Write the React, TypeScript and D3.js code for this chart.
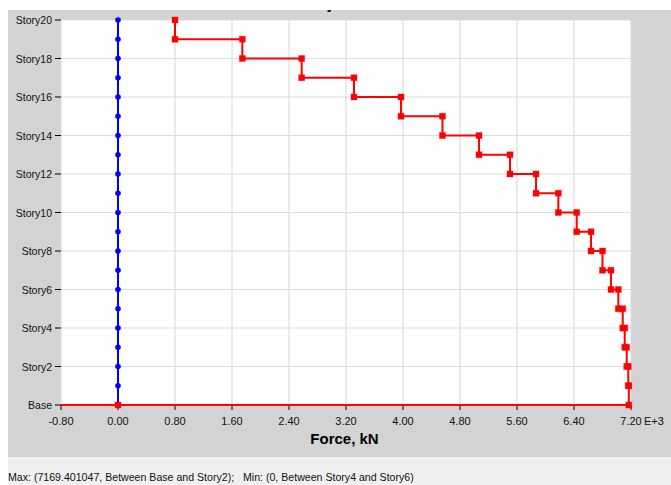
import React from "react";
import * as d3 from "d3";

// Story levels (0 = Base ... 20 = Story20)
const storyNames: string[] = ["Base", ...d3.range(1, 21).map((i) => `Story${i}`)];
const yTickLevels: number[] = [0, 2, 4, 6, 8, 10, 12, 14, 16, 18, 20];
// Shear (kN) in the segment between Story i and Story i-1, i = 1..20
const storyShear: number[] = [
  7169.4, 7162, 7140, 7112, 7084, 7022, 6919, 6800, 6639, 6438,
  6180, 5867, 5502, 5067, 4554, 3972, 3312, 2578, 1745, 800,
];
// Second series: zero at every level
const zeroSeries: number[] = [0, 0, 0, 0, 0, 0, 0, 0, 0, 0, 0, 0, 0, 0, 0, 0, 0, 0, 0, 0, 0];
const xTicks: number[] = [-800, 0, 800, 1600, 2400, 3200, 4000, 4800, 5600, 6400, 7200];
const footer = "Max: (7169.401047, Between Base and Story2);   Min: (0, Between Story4 and Story6)";

const W = 671;
const H = 485;
const plot = { left: 61, right: 631, top: 20, bottom: 405 };

export default function App() {
  const x = d3.scaleLinear().domain([-800, 7200]).range([plot.left, plot.right]);
  const y = d3.scaleLinear().domain([0, 20]).range([plot.bottom, plot.top]);

  const redPts: [number, number][] = [];
  for (let lvl = 20; lvl >= 1; lvl--) {
    const v = storyShear[lvl - 1];
    redPts.push([v, lvl]);
    redPts.push([v, lvl - 1]);
  }
  redPts.push([0, 0]);
  const line = d3
    .line<[number, number]>()
    .x((d) => x(d[0]))
    .y((d) => y(d[1]));
  const bluePts: [number, number][] = zeroSeries.map((v, i) => [v, i]);

  const font = "'Liberation Sans', Arial, sans-serif";
  const fmt = (t: number) => (t / 1000).toFixed(2);

  return (
    <svg
      width={W}
      height={H}
      style={{ position: "absolute", left: 0, top: 0 }}
      fontFamily={font}
    >
      <defs>
        <clipPath id="titleClip">
          <rect x={8} y={10} width={W - 8} height={50} />
        </clipPath>
      </defs>
      <rect x={0} y={0} width={W} height={H} fill="#ffffff" />
      <rect x={8} y={10} width={W - 8} height={447} fill="#d3d3d3" />
      <rect x={8} y={457} width={W - 8} height={H - 457} fill="#f0f0f0" />
      <text
        x={342}
        y={8.5}
        textAnchor="middle"
        fontSize={14}
        fontWeight="bold"
        fill="#000"
        clipPath="url(#titleClip)"
      >
        Story Shears
      </text>

      <rect
        x={plot.left}
        y={plot.top}
        width={plot.right - plot.left}
        height={plot.bottom - plot.top}
        fill="#ffffff"
      />
      {xTicks.map((t) => (
        <line key={`gx${t}`} x1={x(t)} x2={x(t)} y1={plot.top} y2={plot.bottom} stroke="#dcdcdc" strokeWidth={1.2} />
      ))}
      {yTickLevels.map((l) => (
        <line key={`gy${l}`} x1={plot.left} x2={plot.right} y1={y(l)} y2={y(l)} stroke="#dcdcdc" strokeWidth={1.2} />
      ))}

      {yTickLevels.map((l) => (
        <g key={`ty${l}`}>
          <line x1={55} x2={plot.left} y1={y(l)} y2={y(l)} stroke="#000" strokeWidth={1} />
          <text x={52} y={y(l) + 4} textAnchor="end" fontSize={10.5} fill="#111">
            {storyNames[l]}
          </text>
        </g>
      ))}
      {xTicks.map((t, i) => (
        <g key={`tx${t}`}>
          <line x1={x(t)} x2={x(t)} y1={plot.bottom} y2={plot.bottom + 5} stroke="#000" strokeWidth={1} />
          <text x={x(t)} y={425} textAnchor="middle" fontSize={11} fill="#111">
            {fmt(t)}
          </text>
          {i === xTicks.length - 1 && (
            <text x={x(t) + 13} y={425} textAnchor="start" fontSize={11} fill="#111">
              E+3
            </text>
          )}
        </g>
      ))}
      <text x={344.5} y={444} textAnchor="middle" fontSize={15} fontWeight="bold" fill="#000">
        Force, kN
      </text>

      <line x1={plot.left} x2={x(0)} y1={y(0)} y2={y(0)} stroke="#ff0000" strokeWidth={2} />
      <path d={line(bluePts) ?? ""} fill="none" stroke="#0000ff" strokeWidth={2} />
      {bluePts.map((p, i) => (
        <circle key={`b${i}`} cx={x(p[0])} cy={y(p[1])} r={2.8} fill="#0000ff" />
      ))}
      <path d={line(redPts) ?? ""} fill="none" stroke="#ff0000" strokeWidth={2} />
      {redPts.map((p, i) => (
        <rect
          key={`r${i}`}
          x={x(p[0]) - 3}
          y={y(p[1]) - 3}
          width={6}
          height={6}
          fill="#ff0000"
          stroke="rgba(255,0,0,0.35)"
          strokeWidth={1}
        />
      ))}

      <text x={8} y={481} fontSize={10.6} fill="#111" style={{ whiteSpace: "pre" }}>
        {footer}
      </text>
    </svg>
  );
}
